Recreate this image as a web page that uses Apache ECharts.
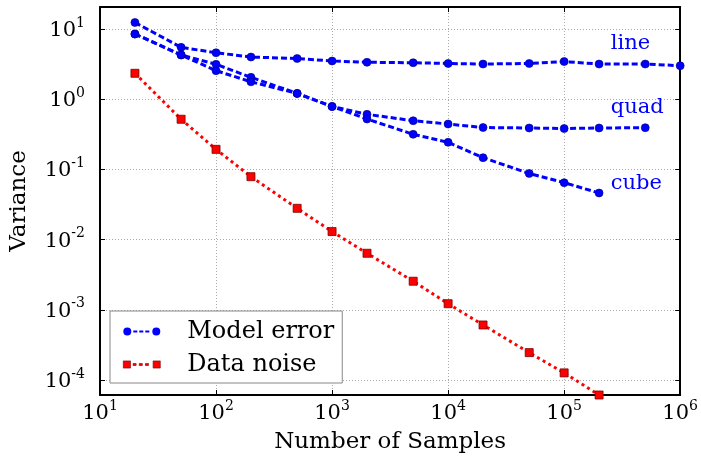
<!DOCTYPE html>
<html>
<head>
<meta charset="utf-8">
<script src="https://cdn.jsdelivr.net/npm/echarts@6/dist/echarts.min.js"></script>
<style>
html,body{margin:0;padding:0;background:#fff;}
#chart{width:701px;height:460px;}
</style>
</head>
<body>
<div id="chart"></div>
<script>
// ---- data ----
const samples = [20, 50, 100, 200, 500, 1000, 2000, 5000, 10000, 20000, 50000, 100000, 200000, 500000, 1000000];
const lineError = [12.4, 5.48, 4.59, 3.99, 3.80, 3.50, 3.36, 3.31, 3.23, 3.17, 3.23, 3.44, 3.17, 3.17, 3.00];
const quadError = [8.49, 4.27, 3.14, 2.05, 1.21, 0.787, 0.609, 0.494, 0.443, 0.395, 0.389, 0.382, 0.389, 0.393];
const cubeError = [8.49, 4.27, 2.55, 1.77, 1.21, 0.787, 0.522, 0.316, 0.243, 0.147, 0.0875, 0.0647, 0.0461];
const dataNoise = [2.34, 0.518, 0.193, 0.0787, 0.0279, 0.0130, 0.00638, 0.00255, 0.00122, 0.000607, 0.000245, 0.000126, 0.000061];
const curveLabels = ['line', 'quad', 'cube'];
const curveLabelX = [2.52e5, 2.52e5, 2.52e5];
const curveLabelY = [6.3, 0.75, 0.062];

const SERIF = '"DejaVu Serif", "Liberation Serif", serif';
const BLUE = '#0000ff';
const RED = '#ff0000';

function pairs(ys) { return ys.map((y, i) => [samples[i], y]); }
function powLabel(v) {
  const e = Math.round(Math.log10(v));
  return '{b|10}{e|' + e + '}';
}
const richLabel = {
  b: { fontFamily: SERIF, fontSize: 21, color: '#000', verticalAlign: 'bottom', lineHeight: 24 },
  e: { fontFamily: SERIF, fontSize: 14, color: '#000', verticalAlign: 'bottom', lineHeight: 15, padding: [0, 0, 11, 0] }
};

const blueLegendIcon = 'path://M0,4a4,4 0 1,0 8,0a4,4 0 1,0 -8,0z M10,3h4v2h-4z M16,3h4v2h-4z M22,3h4v2h-4z M29,4a4,4 0 1,0 8,0a4,4 0 1,0 -8,0z';
const redLegendIcon = 'path://M0.5,0.5h7v7h-7z M10,3h3v2h-3z M16,3h3v2h-3z M22,3h3v2h-3z M29.5,0.5h7v7h-7z';

function blueSeries(ys, idx) {
  return {
    name: 'Model error',
    type: 'line',
    data: pairs(ys),
    symbol: 'circle',
    symbolSize: 8,
    showAllSymbol: true,
    clip: true,
    lineStyle: { color: BLUE, width: 3, type: [6, 3] },
    itemStyle: { color: BLUE, borderColor: '#00007a', borderWidth: 0.6 },
    emphasis: { disabled: true },
    z: 2,
    markPoint: {
      symbol: 'circle',
      symbolSize: 0,
      silent: true,
      label: {
        show: true, position: 'right', distance: 0,
        color: BLUE, fontFamily: SERIF, fontSize: 21,
        formatter: curveLabels[idx]
      },
      data: [{ coord: [curveLabelX[idx], curveLabelY[idx]] }]
    }
  };
}

const chart = echarts.init(document.getElementById('chart'), null, { renderer: 'canvas' });
const option = {
  backgroundColor: '#fff',
  animation: false,
  grid: { left: 97, right: 19, top: 7, bottom: 65, containLabel: false },
  legend: {
    orient: 'vertical',
    left: 110,
    top: 311,
    padding: [7, 8, 5, 13],
    itemGap: 6,
    itemWidth: 37,
    itemHeight: 8,
    backgroundColor: '#fff',
    borderColor: '#888',
    borderWidth: 1,
    borderRadius: 0,
    lineStyle: { width: 0, opacity: 0 },
    textStyle: { fontFamily: SERIF, fontSize: 24, color: '#000', padding: [0, 0, 0, 22], width: 146, lineHeight: 27 },
    data: [
      { name: 'Model error', icon: blueLegendIcon, itemStyle: { color: BLUE, borderWidth: 0 }, lineStyle: { width: 0, opacity: 0 } },
      { name: 'Data noise', icon: redLegendIcon, itemStyle: { color: RED, borderColor: '#700', borderWidth: 0.6 }, lineStyle: { width: 0, opacity: 0 } }
    ],
    selectedMode: false
  },
  xAxis: [
    {
      type: 'log', logBase: 10, min: 10, max: 1000000,
      name: 'Number of Samples', nameLocation: 'middle', nameGap: 36,
      nameTextStyle: { fontFamily: SERIF, fontSize: 23, color: '#000' },
      axisLine: { show: true, lineStyle: { color: '#000', width: 2 } },
      axisTick: { show: true, inside: true, length: 5, lineStyle: { color: '#000', width: 1 } },
      axisLabel: { show: true, margin: 5, formatter: powLabel, rich: richLabel },
      splitLine: { show: true, lineStyle: { color: '#aaa', width: 1, type: [1, 2] } }
    },
    {
      type: 'log', logBase: 10, min: 10, max: 1000000, position: 'top',
      axisLine: { show: true, lineStyle: { color: '#000', width: 2 } },
      axisTick: { show: true, inside: true, length: 5, lineStyle: { color: '#000', width: 1 } },
      axisLabel: { show: false },
      splitLine: { show: false }
    }
  ],
  yAxis: [
    {
      type: 'log', logBase: 10, min: 6.1e-5, max: 20.6,
      name: 'Variance', nameLocation: 'middle', nameGap: 69, nameRotate: 90,
      nameTextStyle: { fontFamily: SERIF, fontSize: 23, color: '#000' },
      axisLine: { show: true, lineStyle: { color: '#000', width: 2 } },
      axisTick: { show: true, inside: true, length: 5, lineStyle: { color: '#000', width: 1 } },
      axisLabel: { show: true, margin: 15, showMinLabel: false, showMaxLabel: false, formatter: powLabel, rich: richLabel },
      splitLine: { show: true, lineStyle: { color: '#aaa', width: 1, type: [1, 2] } }
    },
    {
      type: 'log', logBase: 10, min: 6.1e-5, max: 20.6, position: 'right',
      axisLine: { show: true, lineStyle: { color: '#000', width: 2 } },
      axisTick: { show: true, inside: true, length: 5, lineStyle: { color: '#000', width: 1 } },
      axisLabel: { show: false },
      splitLine: { show: false }
    }
  ],
  series: [
    blueSeries(lineError, 0),
    blueSeries(quadError, 1),
    blueSeries(cubeError, 2),
    {
      name: 'Data noise',
      type: 'line',
      data: pairs(dataNoise),
      symbol: 'rect',
      symbolSize: 8,
      showAllSymbol: true,
      clip: true,
      lineStyle: { color: RED, width: 3, type: [3, 3.5] },
      itemStyle: { color: RED, borderColor: '#700', borderWidth: 0.8 },
      emphasis: { disabled: true },
      z: 3
    }
  ]
};
chart.setOption(option);
</script>
</body>
</html>
